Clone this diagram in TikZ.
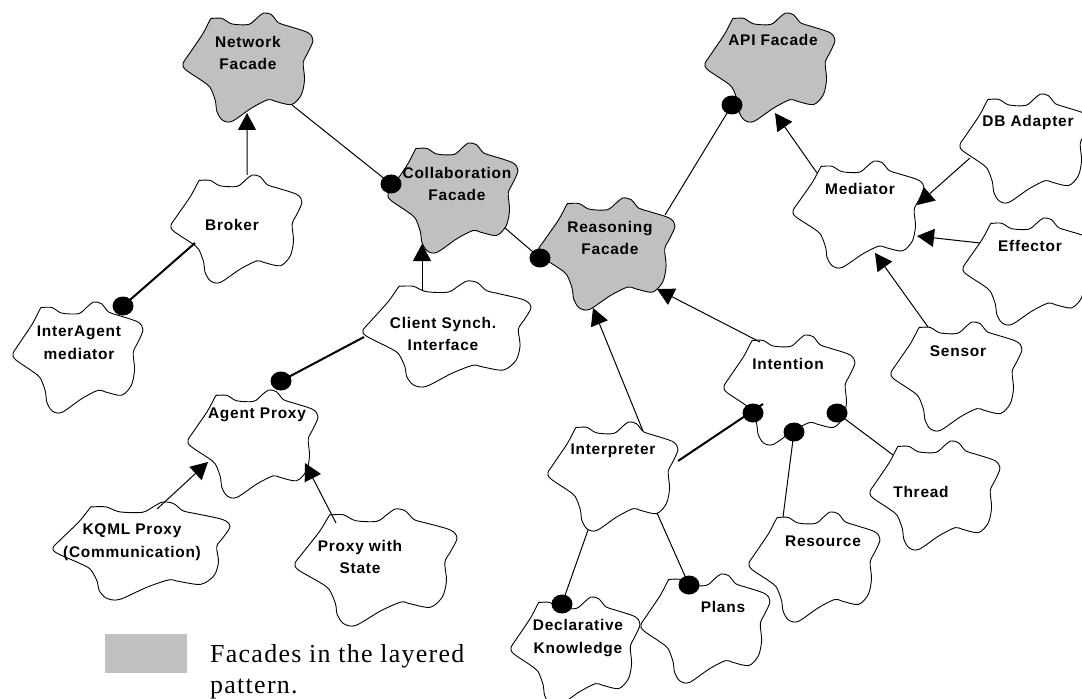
\documentclass[tikz,border=0pt]{standalone}
\usepackage{fontspec}
\usetikzlibrary{arrows.meta,calc,shapes.geometric}
\newfontfamily\lblfont{Liberation Sans}[LetterSpace=5]
\newfontfamily\legendfont{Liberation Serif}[LetterSpace=5]
\definecolor{facadegray}{RGB}{192,192,192}
\tikzset{
  cloud/.pic={\path[pic actions] plot[smooth cycle, tension=0.5] coordinates {
    (-0.55,-0.90) (-0.40,-0.90) (-0.25,-0.80) (0.01,-0.79) (0.14,-0.91) (0.24,-1.00)
    (0.36,-0.97) (0.47,-0.82) (0.62,-0.76) (0.92,-0.64) (1.00,-0.50) (0.92,-0.27)
    (0.85,-0.09) (0.87,0.22) (0.82,0.50) (0.67,0.68) (0.42,0.62) (0.31,0.59)
    (0.06,0.74) (-0.25,0.99) (-0.40,0.96) (-0.48,0.80) (-0.50,0.62) (-0.58,0.37)
    (-0.70,0.25) (-0.96,0.04) (-1.00,-0.07) (-0.91,-0.24) (-0.70,-0.61) (-0.58,-0.88)};},
  plain/.style={draw, fill=white, line width=0.9bp},
  facade/.style={draw, fill=facadegray, line width=0.9bp},
  lbl/.style={align=center, inner sep=0pt, font=\lblfont\bfseries\fontsize{15.5}{23}\selectfont},
  assoc/.style={line width=1bp},
  thickassoc/.style={line width=2bp},
  inh/.style={line width=1bp, -{Triangle[length=17bp,width=18bp]}},
  dot/.style={ellipse, fill=black, minimum width=21bp, minimum height=19bp, inner sep=0pt}
}
\newcommand{\classcloud}[6]{\coordinate (#1) at (#2,#3); \pic[#6, xscale=#4/2, yscale=#5/2] at (#1) {cloud};}
\begin{document}
\begin{tikzpicture}[x=1bp, y=-1bp]
\useasboundingbox (0,0) rectangle (1082,699);

\classcloud{net}{248}{67.5}{130}{109}{facade}
\classcloud{broker}{236.5}{229}{131}{108}{plain}
\classcloud{inter}{78}{357.5}{130}{111}{plain}
\classcloud{collab}{453}{198}{130}{110}{facade}
\classcloud{reason}{606.5}{254}{137}{112}{facade}
\classcloud{api}{770}{67.5}{130}{109}{facade}
\classcloud{med}{858.5}{214.5}{131}{107}{plain}
\classcloud{db}{1025}{148.5}{130}{109}{plain}
\classcloud{eff}{1028}{271.5}{130}{107}{plain}
\classcloud{sensor}{956.5}{376.5}{131}{109}{plain}
\classcloud{thread}{935}{495.5}{130}{109}{plain}
\classcloud{intent}{789.5}{390}{131}{110}{plain}
\classcloud{res}{814.5}{567}{131}{110}{plain}
\classcloud{interp}{613}{476.5}{130}{109}{plain}
\classcloud{decl}{575.5}{651.5}{129}{109}{plain}
\classcloud{plans}{705.5}{628.5}{129}{109}{plain}
\classcloud{client}{447}{334}{168}{106}{plain}
\classcloud{agent}{253}{444}{130}{108}{plain}
\classcloud{kqml}{141.5}{551}{177}{98}{plain}
\classcloud{pws}{376}{567.5}{162}{117}{plain}

\node[lbl] (net-l) at (248,53) {Network\\Facade};
\node[lbl] (broker-l) at (232,225) {Broker};
\node[lbl] (inter-l) at (79,343) {InterAgent\\mediator};
\node[lbl] (collab-l) at (457,184) {Collaboration\\Facade};
\node[lbl] (reason-l) at (610,238) {Reasoning\\Facade};
\node[lbl] (api-l) at (773,40) {API Facade};
\node[lbl] (med-l) at (860,189) {Mediator};
\node[lbl] (db-l) at (1028,123) {DB Adapter};
\node[lbl] (eff-l) at (1030,246) {Effector};
\node[lbl] (sensor-l) at (958,351) {Sensor};
\node[lbl] (thread-l) at (921,492) {Thread};
\node[lbl] (intent-l) at (788,364) {Intention};
\node[lbl] (res-l) at (823,541) {Resource};
\node[lbl] (interp-l) at (613,451) {Interpreter};
\node[lbl] (decl-l) at (578,638) {Declarative\\Knowledge};
\node[lbl] (plans-l) at (723,607) {Plans};
\node[lbl] (client-l) at (443,334) {Client Synch.\\Interface};
\node[lbl] (agent-l) at (257,415) {Agent Proxy};
\node[lbl] (kqml-l) at (132,542) {KQML Proxy\\(Communication)};
\node[lbl] (pws-l) at (360,557) {Proxy with\\State};

\draw[inh] ($(broker)+(10.5,-54)$) -- ($(net)+(-1,45.5)$);
\draw[assoc] ($(net)+(44,37.5)$) -- ($(collab)+(-62,-14)$) node[dot] {};
\draw[thickassoc] ($(broker)+(-41.5,14)$) -- ($(inter)+(45,-51.5)$) node[dot] {};
\draw[inh] ($(client)+(-25,-44)$) -- ($(collab)+(-31,46)$);
\draw[thickassoc] ($(client)+(-83,3)$) -- ($(agent)+(28,-63)$) node[dot] {};
\draw[inh] ($(kqml)+(15.5,-42)$) -- ($(agent)+(-45,18)$);
\draw[inh] ($(pws)+(-40,-44.5)$) -- ($(agent)+(52,19)$);
\draw[assoc] ($(collab)+(52,30)$) -- ($(reason)+(-66.5,4)$) node[dot] {};
\draw[assoc] ($(reason)+(58.5,-39)$) -- ($(api)+(-38,37.5)$) node[dot] {};
\draw[inh] ($(interp)+(30,-45.5)$) -- ($(reason)+(-13.5,54)$);
\draw[inh] ($(intent)+(-29.5,-48)$) -- ($(reason)+(50.5,35)$);
\draw[inh] ($(med)+(-41.5,-41.5)$) -- ($(api)+(5,45.5)$);
\draw[inh] ($(db)+(-55,9.5)$) -- ($(med)+(58.5,-9.5)$);
\draw[inh] ($(eff)+(-48,-28.5)$) -- ($(med)+(58.5,21.5)$);
\draw[inh] ($(sensor)+(-28.5,-49.5)$) -- ($(med)+(16.5,38.5)$);
\draw[thickassoc] ($(interp)+(65,-15.5)$) -- ($(intent)+(-26.5,14)$);
\node[dot] (intent-d1) at ($(intent)+(-36.5,23)$) {};
\draw[assoc] ($(res)+(-31.5,-50)$) -- ($(intent)+(4.5,42)$) node[dot] {};
\draw[assoc] ($(thread)+(-42,-40.5)$) -- ($(intent)+(47.5,23)$) node[dot] {};
\draw[assoc] ($(interp)+(-25,53.5)$) -- ($(decl)+(-13.5,-47.5)$) node[dot] {};
\draw[assoc] ($(interp)+(44,36.5)$) -- ($(plans)+(-16.5,-43.5)$) node[dot] {};

\fill[facadegray] (105,634) rectangle (187,673);
\node[anchor=north west, inner sep=0pt, align=left,
  font=\legendfont\fontsize{26}{31}\selectfont] (legend) at (210,644)
  {Facades in the layered\\pattern.};
\end{tikzpicture}
\end{document}
